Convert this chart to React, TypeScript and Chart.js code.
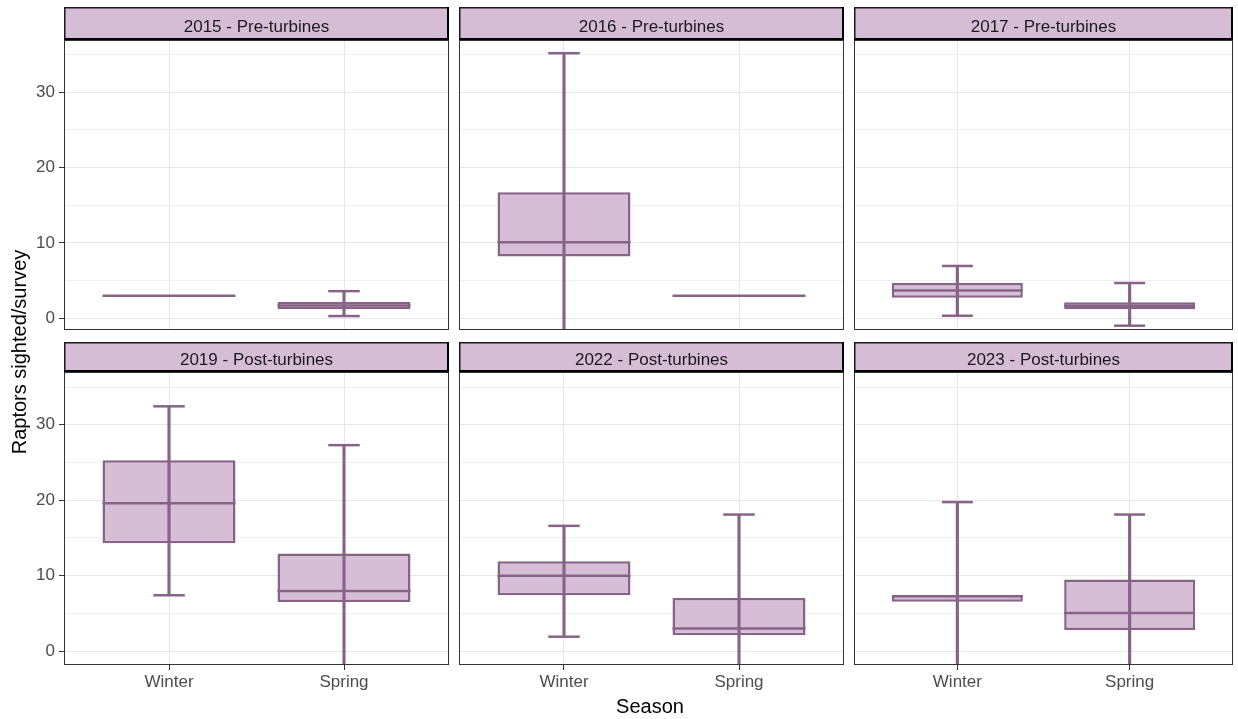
import React, { useEffect, useRef } from "react";
import { Chart, registerables } from "chart.js";

Chart.register(...registerables);

// ---------- data ----------
const seasons = ["Winter", "Spring"];
const panelTitles = [
  "2015 - Pre-turbines",
  "2016 - Pre-turbines",
  "2017 - Pre-turbines",
  "2019 - Post-turbines",
  "2022 - Post-turbines",
  "2023 - Post-turbines",
];
// each entry: [Winter, Spring]
const whiskerLow = [
  [3.0, 0.3],
  [-4, 3.0],
  [0.34, -0.98],
  [7.4, -4],
  [1.9, -4],
  [-4, -4],
];
const q1 = [
  [3.0, 1.19],
  [8.2, 3.0],
  [2.73, 1.19],
  [14.3, 6.5],
  [7.4, 2.1],
  [6.55, 2.8],
];
const medians = [
  [3.0, 1.7],
  [10.1, 3.0],
  [3.7, 1.67],
  [19.6, 7.95],
  [10.0, 3.0],
  [7.25, 5.05],
];
const q3 = [
  [3.0, 2.2],
  [16.7, 3.0],
  [4.68, 2.12],
  [25.3, 12.95],
  [11.9, 7.05],
  [7.42, 9.5],
];
const whiskerHigh = [
  [3.0, 3.6],
  [35.15, 3.0],
  [6.94, 4.68],
  [32.45, 27.3],
  [16.6, 18.1],
  [19.75, 18.1],
];
const yTicks = [0, 5, 10, 15, 20, 25, 30, 35];
const xPositions = [1, 2];

// ---------- style / layout ----------
const FONT = '"Liberation Sans", Arial, Helvetica, sans-serif';
const FILL = "#D7BED7";
const STROKE = "#876387";
const STRIP_FILL = "#D6BDD6";
const GRID_MAJOR = "#E6E6E6";
const GRID_MINOR = "#F0F0F0";
const LINE_W = 2.5;
const BOX_W = 0.76;
const CAP_W = 0.18;
const X_MIN = 0.4;
const X_MAX = 2.6;

const COL_LEFT = [64, 459, 854];
const COL_RIGHT = [449, 844, 1233];
const ROW_STRIP_TOP = [7, 342];
const ROW_PLOT_TOP = [40, 372];
const ROW_PLOT_BOTTOM = [330, 665];
const ROW_Y_RANGE = [
  [-1.55, 36.9],
  [-1.85, 37.0],
];

const facetPlugin = {
  id: "facet",
  afterDraw(chart: any, _args: any, opts: any) {
    const { ctx, chartArea: a } = chart;
    ctx.save();
    // panel border
    ctx.strokeStyle = "#333333";
    ctx.lineWidth = 1;
    ctx.strokeRect(a.left + 0.5, a.top + 0.5, a.right - a.left - 1, a.bottom - a.top - 1);
    // strip
    const sh = a.top;
    ctx.fillStyle = STRIP_FILL;
    ctx.fillRect(a.left, 0, a.right - a.left, sh);
    ctx.strokeStyle = "#1A1A1A";
    ctx.lineWidth = 1.5;
    ctx.strokeRect(a.left + 0.75, 0.75, a.right - a.left - 1.5, sh - 1.5);
    ctx.strokeStyle = "#000000";
    ctx.lineWidth = 2;
    ctx.beginPath();
    ctx.moveTo(a.left, sh - 1);
    ctx.lineTo(a.right, sh - 1);
    ctx.moveTo(a.right - 1, 0);
    ctx.lineTo(a.right - 1, sh);
    ctx.stroke();
    ctx.fillStyle = "#1A1A1A";
    ctx.font = `17px ${FONT}`;
    ctx.textAlign = "center";
    ctx.textBaseline = "alphabetic";
    ctx.fillText(opts.title, (a.left + a.right) / 2, sh / 2 + 8);
    ctx.restore();
  },
};

function halfWidthPx(chart: any, w: number) {
  const xs = chart.scales.x;
  if (!xs) return 0;
  return Math.abs(xs.getPixelForValue(1 + w / 2) - xs.getPixelForValue(1));
}

function Panel({ idx }: { idx: number }) {
  const ref = useRef<HTMLCanvasElement>(null);
  const r = Math.floor(idx / 3);
  const c = idx % 3;
  const left = c === 0 ? 0 : COL_LEFT[c];
  const leftExtra = COL_LEFT[c] - left;
  const top = ROW_STRIP_TOP[r];
  const stripH = ROW_PLOT_TOP[r] - top;
  const bottomExtra = r === 1 ? 40 : 0;
  const width = COL_RIGHT[c] - left;
  const height = ROW_PLOT_BOTTOM[r] - top + bottomExtra;

  useEffect(() => {
    if (!ref.current) return;
    const showY = c === 0;
    const showX = r === 1;
    const boxData = xPositions.map((x, i) => ({ x, y: [q1[idx][i], q3[idx][i]] }));
    const whiskerData = xPositions.map((x, i) => ({ x, y: [whiskerLow[idx][i], whiskerHigh[idx][i]] }));
    const medianData = xPositions.map((x, i) => ({ x, y: medians[idx][i] }));
    // caps only where the whisker has length (collapsed boxes show just the median line)
    const capData = [
      ...xPositions.map((x, i) => ({
        x,
        y: whiskerHigh[idx][i] !== q3[idx][i] ? whiskerHigh[idx][i] : null,
      })),
      ...xPositions.map((x, i) => ({
        x,
        y: whiskerLow[idx][i] !== q1[idx][i] ? whiskerLow[idx][i] : null,
      })),
    ];
    const chart = new Chart(ref.current, {
      type: "bar",
      data: {
        datasets: [
          {
            type: "bar",
            data: boxData as any,
            backgroundColor: FILL,
            borderColor: STROKE,
            borderWidth: LINE_W,
            borderSkipped: false,
            barPercentage: BOX_W,
            categoryPercentage: 1,
            grouped: false,
            order: 3,
            clip: 0,
          } as any,
          {
            type: "bar",
            data: whiskerData as any,
            backgroundColor: STROKE,
            borderWidth: 0,
            barThickness: LINE_W,
            grouped: false,
            order: 2,
            clip: 0,
          } as any,
          {
            type: "line",
            data: medianData as any,
            showLine: false,
            pointStyle: "line",
            pointRadius: (ctx: any) => halfWidthPx(ctx.chart, BOX_W),
            pointBorderWidth: LINE_W,
            pointBorderColor: STROKE,
            pointBackgroundColor: STROKE,
            order: 1,
            clip: 0,
          } as any,
          {
            type: "line",
            data: capData as any,
            showLine: false,
            pointStyle: "line",
            pointRadius: (ctx: any) => halfWidthPx(ctx.chart, CAP_W),
            pointBorderWidth: LINE_W,
            pointBorderColor: STROKE,
            pointBackgroundColor: STROKE,
            order: 0,
            clip: 0,
          } as any,
        ],
      },
      options: {
        animation: false,
        responsive: false,
        devicePixelRatio: 1,
        events: [],
        layout: { padding: { top: stripH, left: 0, right: 0, bottom: 0 } },
        plugins: {
          legend: { display: false },
          tooltip: { enabled: false },
          facet: { title: panelTitles[idx] },
        } as any,
        scales: {
          x: {
            type: "linear",
            min: X_MIN,
            max: X_MAX,
            offset: false,
            afterBuildTicks: (s: any) => {
              s.ticks = xPositions.map((v) => ({ value: v }));
            },
            afterFit: (s: any) => {
              s.height = bottomExtra;
              s.paddingLeft = 0;
              s.paddingRight = 0;
            },
            border: { display: false },
            grid: {
              offset: false,
              color: GRID_MAJOR,
              lineWidth: 1,
              drawTicks: showX,
              tickLength: 5,
              tickColor: "#333333",
              tickWidth: 1,
            },
            ticks: {
              display: showX,
              autoSkip: false,
              maxRotation: 0,
              minRotation: 0,
              padding: 2,
              color: "#4D4D4D",
              font: { family: FONT, size: 17 },
              callback: (v: any) => seasons[Number(v) - 1] ?? "",
            },
          },
          y: {
            type: "linear",
            min: ROW_Y_RANGE[r][0],
            max: ROW_Y_RANGE[r][1],
            afterBuildTicks: (s: any) => {
              s.ticks = yTicks.map((v) => ({ value: v }));
            },
            afterFit: (s: any) => {
              s.width = leftExtra;
              s.paddingTop = 0;
              s.paddingBottom = 0;
            },
            border: { display: false },
            grid: {
              offset: false,
              color: (ctx: any) => (ctx.tick && ctx.tick.value % 10 === 0 ? GRID_MAJOR : GRID_MINOR),
              lineWidth: 1,
              drawTicks: showY,
              tickLength: 5,
              tickColor: (ctx: any) =>
                ctx.tick && ctx.tick.value % 10 === 0 ? "#333333" : "rgba(0,0,0,0)",
              tickWidth: 1,
            },
            ticks: {
              display: showY,
              autoSkip: false,
              padding: 4,
              color: "#4D4D4D",
              font: { family: FONT, size: 17 },
              callback: (v: any) => (Number(v) % 10 === 0 ? String(v) : ""),
            },
          },
        },
      } as any,
      plugins: [facetPlugin as any],
    });
    return () => chart.destroy();
  }, []);

  return (
    <canvas
      ref={ref}
      width={width}
      height={height}
      style={{ position: "absolute", left, top, width, height, display: "block" }}
    />
  );
}

export default function App() {
  return (
    <div
      style={{
        position: "fixed",
        left: 0,
        top: 0,
        width: 1238,
        height: 719,
        background: "#ffffff",
        overflow: "hidden",
      }}
    >
      {panelTitles.map((_, i) => (
        <Panel key={i} idx={i} />
      ))}
      <div
        style={{
          position: "absolute",
          left: 450,
          width: 400,
          top: 694,
          textAlign: "center",
          font: `20px ${FONT}`,
          lineHeight: "24px",
          color: "#000",
        }}
      >
        Season
      </div>
      <div
        style={{
          position: "absolute",
          left: 19 - 150,
          top: 352 - 12,
          width: 300,
          height: 24,
          textAlign: "center",
          font: `20px ${FONT}`,
          lineHeight: "24px",
          color: "#000",
          transform: "rotate(-90deg)",
          transformOrigin: "50% 50%",
          whiteSpace: "nowrap",
        }}
      >
        Raptors sighted/survey
      </div>
    </div>
  );
}
